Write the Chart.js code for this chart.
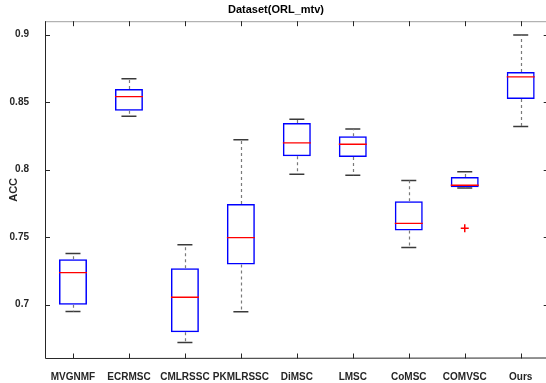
<!DOCTYPE html>
<html>
<head>
<meta charset="utf-8">
<script src="https://cdn.jsdelivr.net/npm/chart.js@4.4.1/dist/chart.umd.min.js"></script>
<style>
  body { margin: 0; overflow: hidden; background: #fff; }
  canvas { display: block; }
</style>
</head>
<body>
<canvas id="grafik" width="564" height="383"></canvas>
<script>
// box plot values
var categories = ["MVGNMF", "ECRMSC", "CMLRSSC", "PKMLRSSC", "DiMSC", "LMSC", "CoMSC", "COMVSC", "Ours"];
var whiskerLow = [0.6948, 0.8395, 0.6719, 0.6946, 0.7965, 0.7958, 0.7422, 0.7864, 0.8320];
var q1 = [0.6998, 0.8437, 0.6795, 0.7296, 0.8099, 0.8094, 0.7548, 0.7869, 0.8524];
var medians = [0.7237, 0.8541, 0.7054, 0.7496, 0.8198, 0.8188, 0.7602, 0.7884, 0.8687];
var q3 = [0.7335, 0.8598, 0.7269, 0.7746, 0.8346, 0.8247, 0.7765, 0.7946, 0.8724];
var whiskerHigh = [0.7378, 0.8674, 0.7444, 0.8222, 0.8373, 0.8301, 0.7920, 0.7985, 0.8998];
var outliers = [null, null, null, null, null, null, null, 0.7565, null];
var yTicks = [0.7, 0.75, 0.8, 0.85, 0.9];

var boje = { osa: "#262626", plava: "#0000ff", crvena: "#ff0000", brk: "#7a7a7a", kapa: "#3a3a3a" };

var boxes = [];
for (var i = 0; i < categories.length; i++) {
  boxes.push([q1[i], q3[i]]);
}

// dashed whiskers from the box edges to the caps
var brkovi = {
  id: "brkovi",
  afterDatasetsDraw: function (chart) {
    var ctx = chart.ctx;
    var sx = chart.scales.x;
    var sy = chart.scales.y;
    ctx.save();
    ctx.strokeStyle = boje.brk;
    ctx.lineWidth = 1.2;
    ctx.setLineDash([3, 3]);
    for (var i = 0; i < categories.length; i++) {
      var px = Math.round(sx.getPixelForValue(i)) + 0.5;
      ctx.beginPath();
      ctx.moveTo(px, sy.getPixelForValue(q3[i]));
      ctx.lineTo(px, sy.getPixelForValue(whiskerHigh[i]));
      ctx.moveTo(px, sy.getPixelForValue(q1[i]));
      ctx.lineTo(px, sy.getPixelForValue(whiskerLow[i]));
      ctx.stroke();
    }
    ctx.restore();
  }
};

// matlab style frame with inward ticks
var okvir = {
  id: "okvir",
  afterDraw: function (chart) {
    var ctx = chart.ctx;
    var a = chart.chartArea;
    var sx = chart.scales.x;
    var sy = chart.scales.y;
    var t = 5;
    ctx.save();
    ctx.lineWidth = 1;
    ctx.strokeStyle = "#a0a0a0";
    ctx.beginPath();
    ctx.moveTo(a.left, a.top + 0.5);
    ctx.lineTo(a.right, a.top + 0.5);
    ctx.moveTo(a.right - 0.5, a.top);
    ctx.lineTo(a.right - 0.5, a.bottom);
    ctx.stroke();
    ctx.strokeStyle = boje.osa;
    ctx.beginPath();
    ctx.moveTo(a.left + 0.5, a.top);
    ctx.lineTo(a.left + 0.5, a.bottom);
    ctx.lineTo(a.right, a.bottom - 0.5);
    for (var i = 0; i < yTicks.length; i++) {
      var py = Math.round(sy.getPixelForValue(yTicks[i])) + 0.5;
      ctx.moveTo(a.left, py);
      ctx.lineTo(a.left + t, py);
      ctx.moveTo(a.right, py);
      ctx.lineTo(a.right - t, py);
    }
    for (var j = 0; j < categories.length; j++) {
      var px = Math.round(sx.getPixelForValue(j)) + 0.5;
      ctx.moveTo(px, a.bottom);
      ctx.lineTo(px, a.bottom - t);
      ctx.moveTo(px, a.top);
      ctx.lineTo(px, a.top + t);
    }
    ctx.stroke();
    ctx.restore();
  }
};

var chrt = document.getElementById("grafik").getContext("2d");
var grafik = new Chart(chrt, {
  type: "bar",
  data: {
    labels: categories,
    datasets: [
      {
        label: "box",
        data: boxes,
        backgroundColor: "rgba(0,0,0,0)",
        borderColor: boje.plava,
        borderWidth: 1.5,
        borderSkipped: false,
        barPercentage: 0.5,
        categoryPercentage: 1,
        order: 3
      },
      {
        type: "line",
        label: "median",
        data: medians,
        showLine: false,
        pointStyle: "line",
        pointRadius: 14,
        pointBorderWidth: 1.3,
        pointBorderColor: boje.crvena,
        order: 1
      },
      {
        type: "line",
        label: "gornja",
        data: whiskerHigh,
        showLine: false,
        pointStyle: "line",
        pointRadius: 7.5,
        pointBorderWidth: 1.5,
        pointBorderColor: boje.kapa,
        order: 2
      },
      {
        type: "line",
        label: "donja",
        data: whiskerLow,
        showLine: false,
        pointStyle: "line",
        pointRadius: 7.5,
        pointBorderWidth: 1.5,
        pointBorderColor: boje.kapa,
        order: 2
      },
      {
        type: "line",
        label: "outlier",
        data: outliers,
        showLine: false,
        pointStyle: "cross",
        pointRadius: 4,
        pointBorderWidth: 1.5,
        pointBorderColor: boje.crvena,
        order: 0
      }
    ]
  },
  options: {
    responsive: false,
    animation: false,
    layout: { padding: { left: 0, right: 12, top: 0, bottom: 0 } },
    plugins: {
      legend: { display: false },
      tooltip: { enabled: false },
      title: {
        display: true,
        text: "Dataset(ORL_mtv)",
        color: "#000",
        font: { family: "Liberation Sans", size: 11, weight: "bold" },
        padding: { top: 3, bottom: 5 }
      }
    },
    scales: {
      x: {
        grid: { display: false },
        border: { display: false },
        ticks: {
          color: boje.osa,
          font: { family: "Liberation Sans", size: 10, weight: "bold" },
          padding: 5,
          maxRotation: 0,
          autoSkip: false
        },
        afterFit: function (s) { s.height = 24.5; }
      },
      y: {
        min: 0.66,
        max: 0.91,
        grid: { display: false },
        border: { display: false },
        afterBuildTicks: function (s) {
          s.ticks = yTicks.map(function (v) { return { value: v }; });
        },
        ticks: {
          color: boje.osa,
          font: { family: "Liberation Sans", size: 10, weight: "bold" },
          padding: 8,
          callback: function (v) { return String(v); }
        },
        title: {
          display: true,
          text: "ACC",
          color: boje.osa,
          font: { family: "Liberation Sans", size: 11, weight: "bold" },
          padding: { top: 7, bottom: 0 }
        },
        afterFit: function (s) { s.width = 45; }
      }
    }
  },
  plugins: [brkovi, okvir]
});
</script>
</body>
</html>
